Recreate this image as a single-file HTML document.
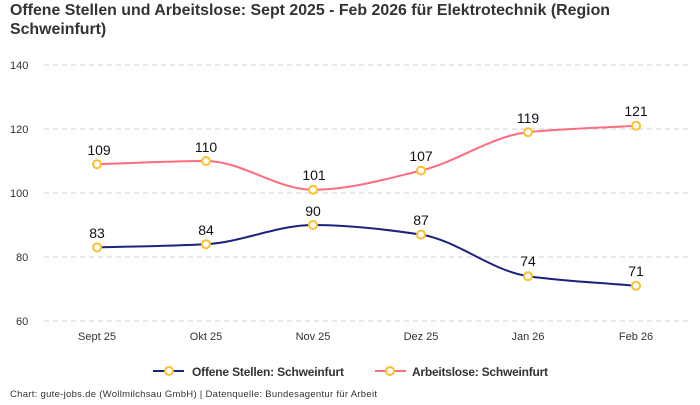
<!DOCTYPE html>
<html><head><meta charset="utf-8"><style>
body{margin:0;background:#fff;width:700px;height:400px;overflow:hidden;font-family:"Liberation Sans",sans-serif}
</style></head><body>
<svg width="700" height="400" xmlns="http://www.w3.org/2000/svg" font-family="Liberation Sans, sans-serif">
<text x="10" y="15" font-size="15.9" font-weight="bold" fill="#333" textLength="600">Offene Stellen und Arbeitslose: Sept 2025 - Feb 2026 für Elektrotechnik (Region</text>
<text x="10" y="34" font-size="15.9" font-weight="bold" fill="#333">Schweinfurt)</text>
<g stroke="#d0d0d0" stroke-dasharray="5,4" stroke-width="1">
<line x1="44" y1="65" x2="690" y2="65"/><line x1="44" y1="129" x2="690" y2="129"/><line x1="44" y1="193" x2="690" y2="193"/><line x1="44" y1="257" x2="690" y2="257"/><line x1="44" y1="321" x2="690" y2="321"/>
</g>
<g font-size="11" fill="#333">
<text x="10" y="69">140</text><text x="10" y="133">120</text><text x="10" y="197">100</text><text x="16" y="261">80</text><text x="16" y="325">60</text>
</g>
<g font-size="11" fill="#333" text-anchor="middle">
<text x="97" y="340">Sept 25</text><text x="206" y="340">Okt 25</text><text x="313" y="340">Nov 25</text><text x="421" y="340">Dez 25</text><text x="528" y="340">Jan 26</text><text x="636" y="340">Feb 26</text>
</g>
<path d="M97,164.2 C133,163.2 170,161 206,161 C241.7,161 277.3,189.8 313,189.8 C349,189.8 385,179.2 421,170.6 C456.7,162 492.3,135.8 528,132.2 C564,128.6 600,127.9 636,125.8" fill="none" stroke="#ff6b81" stroke-width="2"/>
<path d="M97,247.4 C133,246.4 170,246 206,244.2 C241.7,242.4 277.3,225 313,225 C349,225 385,229.2 421,234.6 C456.7,240 492.3,271.2 528,276.2 C564,281.2 600,282.6 636,285.8" fill="none" stroke="#1a237e" stroke-width="2"/>
<g fill="#fff" stroke="#fbc02d" stroke-width="2">
<circle cx="97" cy="164.2" r="4"/><circle cx="206" cy="161" r="4"/><circle cx="313" cy="189.8" r="4"/><circle cx="421" cy="170.6" r="4"/><circle cx="528" cy="132.2" r="4"/><circle cx="636" cy="125.8" r="4"/>
<circle cx="97" cy="247.4" r="4"/><circle cx="206" cy="244.2" r="4"/><circle cx="313" cy="225" r="4"/><circle cx="421" cy="234.6" r="4"/><circle cx="528" cy="276.2" r="4"/><circle cx="636" cy="285.8" r="4"/>
</g>
<g font-size="14" fill="#111" text-anchor="middle">
<text x="99" y="155">109</text><text x="206" y="152">110</text><text x="314" y="180">101</text><text x="421" y="161">107</text><text x="528" y="123">119</text><text x="636" y="116">121</text>
<text x="97" y="238">83</text><text x="206" y="235">84</text><text x="313" y="216">90</text><text x="421" y="225">87</text><text x="528" y="266">74</text><text x="636" y="276">71</text>
</g>
<line x1="153" y1="371" x2="184" y2="371" stroke="#1a237e" stroke-width="2"/>
<circle cx="169" cy="371" r="4" fill="#fff" stroke="#fbc02d" stroke-width="2"/>
<text x="192" y="376" font-size="12" font-weight="bold" fill="#333" textLength="152">Offene Stellen: Schweinfurt</text>
<line x1="375" y1="371" x2="406" y2="371" stroke="#ff6b81" stroke-width="2"/>
<circle cx="390" cy="371" r="4" fill="#fff" stroke="#fbc02d" stroke-width="2"/>
<text x="412" y="376" font-size="12" font-weight="bold" fill="#333" textLength="136">Arbeitslose: Schweinfurt</text>
<text x="10" y="397" font-size="9.5" fill="#333" textLength="367">Chart: gute-jobs.de (Wollmilchsau GmbH) | Datenquelle: Bundesagentur für Arbeit</text>
</svg>
</body></html>
